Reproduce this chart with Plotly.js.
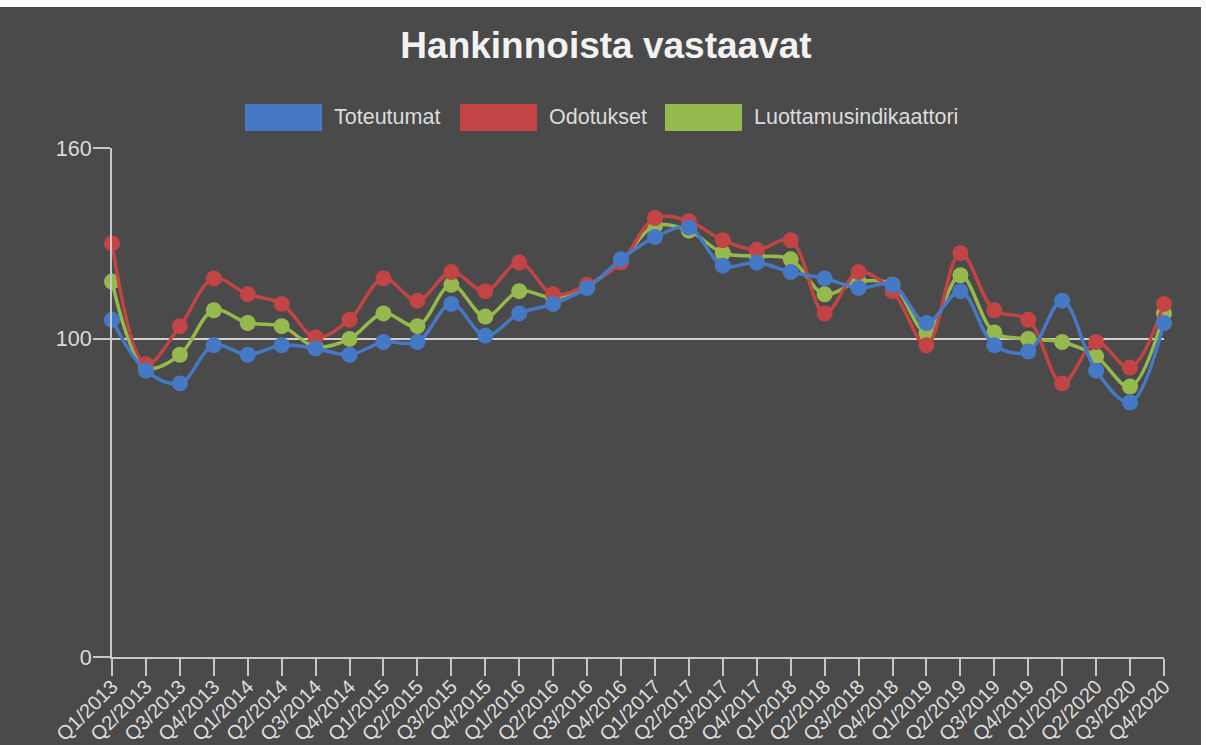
<!DOCTYPE html>
<html><head><meta charset="utf-8">
<script src="https://cdn.plot.ly/plotly-3.0.1.min.js"></script>
<style>
html,body{margin:0;padding:0;background:#ffffff;width:1206px;height:745px;overflow:hidden;}
#chart{position:absolute;left:0;top:7px;width:1201px;height:738px;}
</style></head><body><div id="chart"></div>
<script>
const chartTitle = 'Hankinnoista vastaavat';
const categories = ['Q1/2013','Q2/2013','Q3/2013','Q4/2013','Q1/2014','Q2/2014','Q3/2014','Q4/2014',
  'Q1/2015','Q2/2015','Q3/2015','Q4/2015','Q1/2016','Q2/2016','Q3/2016','Q4/2016',
  'Q1/2017','Q2/2017','Q3/2017','Q4/2017','Q1/2018','Q2/2018','Q3/2018','Q4/2018',
  'Q1/2019','Q2/2019','Q3/2019','Q4/2019','Q1/2020','Q2/2020','Q3/2020','Q4/2020'];
const seriesNames = ['Toteutumat','Odotukset','Luottamusindikaattori'];
const toteutumat = [106,90,86,98,95,98,97,95,99,99,111,101,108,111,116,125,132,135,123,124,121,119,116,117,105,115,98,96,112,90,80,105];
const odotukset = [130,92,104,119,114,111,100.5,106,119,112,121,115,124,114,117,124,138,137,131,128,131,108,121,115,98,127,109,106,86,99,91,111];
const luottamusindikaattori = [118,91,95,109,105,104,97.5,100,108,104,117,107,115,113,116.5,124.5,135.5,134,127,126,125,114,118,117,102,120,102,100,99,94.5,85,108];
const yTickValues = [0,100,160];

const colors = ['#4579c5','#c24445','#95b94d'];
const seriesValues = [toteutumat, odotukset, luottamusindikaattori];
const textColor = '#dcdcdc';
const font = 'Liberation Sans, Arial, sans-serif';

// draw in reverse so the first series is on top
const traces = [2,1,0].map(k => ({
  type:'scatter', mode:'lines+markers', x:categories, y:seriesValues[k], name:seriesNames[k],
  line:{color:colors[k], width:3.5, shape:'spline', smoothing:1},
  marker:{color:colors[k], size:16},
  cliponaxis:false, showlegend:false, hoverinfo:'x+y+name'
}));

// plot area geometry in page pixels (for custom legend)
const W = 1201, H = 738, offTop = 7;
const mL = 112, mR = 37, mT = 141, mB = 88;
const plotW = W - mL - mR, plotH = H - mT - mB;
const px2x = px => (px - mL) / plotW;
const py2y = py => (H - mB - (py - offTop)) / plotH;

const legendBoxX = [245, 460, 665];
const boxW = 77, boxTop = 104, boxBot = 131, textGap = 10;
const shapes = [], annotations = [];
seriesNames.forEach((nm, k) => {
  shapes.push({type:'rect', xref:'paper', yref:'paper',
    x0:px2x(legendBoxX[k]), x1:px2x(legendBoxX[k]+boxW), y0:py2y(boxBot), y1:py2y(boxTop),
    fillcolor:colors[k], line:{width:0}});
  annotations.push({xref:'paper', yref:'paper', x:px2x(legendBoxX[k]+boxW+textGap), y:py2y((boxTop+boxBot)/2),
    xanchor:'left', yanchor:'middle', showarrow:false, text:nm,
    font:{family:font, size:21.5, color:textColor}});
});

const layout = {
  width:W, height:H,
  paper_bgcolor:'#4a4a4a', plot_bgcolor:'#4a4a4a',
  margin:{l:mL, r:mR, t:mT, b:mB, pad:0},
  title:{text:chartTitle, xref:'container', yref:'container', x:606/W, y:1-38/H, xanchor:'center', yanchor:'middle',
    font:{family:font, size:37, color:'#f2f2f2', weight:700}},
  showlegend:false,
  xaxis:{type:'category', range:[0, categories.length-1], tickmode:'array', tickvals:categories, ticktext:categories,
    tickangle:-45, ticks:'outside', ticklen:17, tickwidth:2, tickcolor:'#c8c8c8', ticklabelstandoff:-9,
    showline:true, linecolor:'#c8c8c8', linewidth:2, showgrid:false, zeroline:false,
    tickfont:{family:font, size:20, color:textColor}, fixedrange:true},
  yaxis:{range:[0,160], tickmode:'array', tickvals:yTickValues, ticks:'outside', ticklen:17, tickwidth:2, tickcolor:'#c8c8c8',
    ticklabelstandoff:-3,
    showline:true, linecolor:'#c8c8c8', linewidth:2, showgrid:true, gridcolor:'#d0d0d0', gridwidth:2, zeroline:false,
    tickfont:{family:font, size:21.5, color:textColor}, fixedrange:true},
  shapes:shapes, annotations:annotations
};
Plotly.newPlot('chart', traces, layout, {displayModeBar:false, staticPlot:true});
</script></body></html>
